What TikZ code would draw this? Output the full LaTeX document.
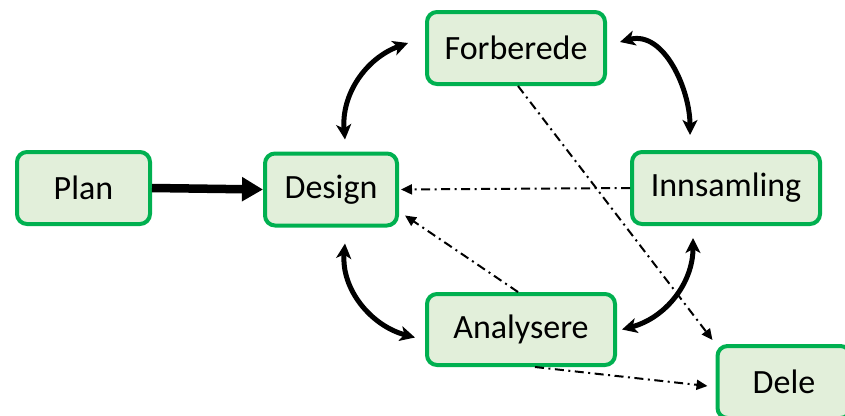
\documentclass[tikz,border=0pt]{standalone}
\usepackage{fontspec}
\setmainfont{Carlito}
\usetikzlibrary{arrows.meta}
\definecolor{boxline}{HTML}{00B050}
\definecolor{boxfill}{HTML}{E2EFDA}
\tikzset{
  box/.style={draw=boxline, fill=boxfill, line width=4pt, rounded corners=10pt,
    minimum height=72pt, font=\fontsize{34}{40}\selectfont},
  mainarrow/.style={line width=8.5pt, -{Triangle[length=21pt,width=23pt]}},
  biarrow/.style={line width=5pt, {Stealth[length=15pt,width=15pt,inset=4pt]}-{Stealth[length=15pt,width=15pt,inset=4pt]}},
  dasharrow/.style={line width=2pt, dash pattern=on 9pt off 4.5pt on 2pt off 4.5pt,
    -{Triangle[length=11pt,width=10pt]}}
}

\begin{document}
\begin{tikzpicture}[x=1pt, y=1pt]
  \useasboundingbox (0,0) rectangle (845,-415);
  \clip (0,0) rectangle (845,-415);

  % boxes
  \node (plan) [box, minimum width=133pt] at (83.5,-188) {Plan};
  \node (design) [box, minimum width=132pt] at (331,-189.5) {Design};
  \node (forberede) [box, minimum width=178pt] at (516,-48) {Forberede};
  \node (innsamling) [box, minimum width=188pt] at (726,-188) {Innsamling};
  \node (analysere) [box, minimum width=188pt, minimum height=71pt] at (521,-329.5) {Analysere};
  \node (dele) [box, minimum width=133pt] at (784,-382) {Dele};

  % main flow
  \draw[mainarrow] (plan.east) -- (design.west);

  % the cycle
  \draw[biarrow] ([shift={(14,12)}]design.north) to[out=95, in=200] ([shift={(-17,5)}]forberede.west);
  \draw[biarrow] ([shift={(13,6)}]forberede.east) to[out=15, in=90] ([shift={(-36,15)}]innsamling.north);
  \draw[biarrow] ([shift={(-33,-12)}]innsamling.south) to[out=-90, in=15] ([shift={(5,0)}]analysere.east);
  \draw[biarrow] ([shift={(14,-16)}]design.south) to[out=-95, in=165] ([shift={(-10,-8)}]analysere.west);

  % feedback and sharing
  \draw[dasharrow] (innsamling.west) -- ([xshift=2pt]design.east);
  \draw[dasharrow] ([xshift=-3pt]analysere.north) -- ([shift={(6,12)}]design.south east);
  \draw[dasharrow] ([xshift=2pt]forberede.south) -- ([shift={(-3,4)}]dele.north west);
  \draw[dasharrow] ([xshift=14pt]analysere.south) -- ([xshift=-8pt,yshift=-4pt]dele.west);

\end{tikzpicture}
\end{document}
